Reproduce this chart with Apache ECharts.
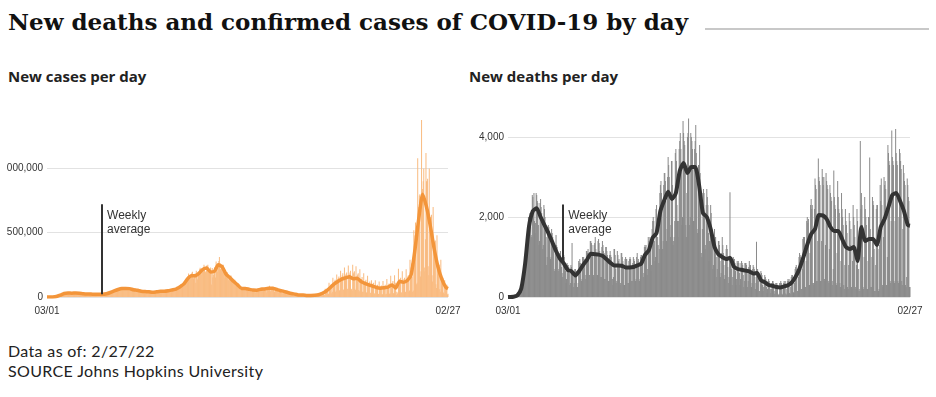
<!DOCTYPE html>
<html>
<head>
<meta charset="utf-8">
<script src="https://cdn.jsdelivr.net/npm/echarts@6/dist/echarts.min.js"></script>
<style>
  body { margin: 0; background: #fff; width: 936px; height: 397px; position: relative; overflow: hidden; }
  #title { position: absolute; left: 8px; top: 11px; font: bold 23px/22px 'DejaVu Serif', Georgia, serif; color: #111; white-space: nowrap; }
  #rule { position: absolute; left: 705px; top: 28px; width: 224px; height: 2px; background: #c8c8c8; }
  .sub { position: absolute; top: 69px; font: bold 15px/15px 'Open Sans', 'Noto Sans', sans-serif; color: #222; white-space: nowrap; }
  #foot { position: absolute; left: 8px; top: 341px; font: 16px/20px Lato, 'Noto Sans', sans-serif; letter-spacing: 0.35px; color: #222; }
  .chart { position: absolute; top: 100px; height: 230px; }
</style>
</head>
<body>
<div id="title">New deaths and confirmed cases of COVID-19 by day</div>
<div id="rule"></div>
<div class="sub" style="left:8px">New cases per day</div>
<div class="sub" style="left:469px">New deaths per day</div>
<div id="casesChart" class="chart" style="left:7px;width:461px"></div>
<div id="deathsChart" class="chart" style="left:460px;width:476px"></div>
<div id="foot">Data as of: 2/27/22<br>SOURCE Johns Hopkins University</div>

<script>
  // first day is Sun 2020-03-01, last is Sun 2022-02-27 (729 days)
  var startDay = [2020, 2, 1]
  var dayCount = 729

  // new cases per day, thousands, one row per week (Sun..Sat)
  var dailyCases = [
    0,0,0,0.1,0.1,0.1,0.1,
    0.1,0.2,0.3,0.4,0.5,0.6,0.7,
    0.8,1.3,1.8,3,4.5,5.8,7,
    8,10,11,12,17,19,20,
    19,20,26,26,29,32,33,
    26,29,30,31,32,35,33,
    27,26,27,30,32,31,33,
    27,25,26,29,32,39,34,
    27,24,25,28,31,35,31,
    24,22,23,25,28,29,27,
    21,20,21,23,27,28,25,
    20,21,20,22,24,26,24,
    20,19,17,19,22,24,23,
    20,18,21,20,23,25,23,
    18,17,19,21,23,23,26,
    20,18,23,25,27,32,30,
    26,30,34,37,39,45,42,
    38,39,44,50,53,57,45,
    46,49,56,60,62,68,66,
    60,60,62,67,73,75,68,
    63,60,63,70,70,74,68,
    57,58,60,67,70,72,64,
    48,47,53,54,58,63,59,
    47,44,48,52,55,64,55,
    41,37,41,45,48,50,49,
    36,35,38,42,46,49,46,
    36,33,36,42,43,49,47,
    35,27,27,34,37,45,42,
    35,33,38,39,44,48,43,
    38,36,40,43,47,55,47,
    38,36,40,42,46,55,49,
    39,40,44,50,51,58,53,
    46,44,51,57,63,69,55,
    50,52,60,63,71,82,58,
    61,67,74,79,89,99,80,
    80,85,93,104,118,125,122,
    105,118,140,145,160,183,167,
    136,142,160,171,188,196,175,
    143,173,175,182,110,205,154,
    138,158,180,200,215,228,214,
    175,190,214,225,232,250,215,
    190,197,205,245,240,250,205,
    186,195,197,230,190,97,226,
    153,172,200,227,232,152,277,
    215,195,240,262,280,311,265,
    215,220,240,240,245,250,215,
    180,145,165,190,195,195,172,
    131,150,146,155,165,168,140,
    112,134,116,121,123,134,103,
    83,90,92,96,104,104,87,
    64,54,60,71,72,76,71,
    56,57,64,75,77,74,63,
    52,57,56,65,68,66,59,
    40,50,54,58,59,63,53,
    35,48,53,58,60,64,50,
    38,53,60,66,66,75,61,
    42,62,61,68,77,70,62,
    35,78,68,75,78,87,60,
    45,70,72,75,79,80,60,
    38,62,60,67,70,72,52,
    36,51,52,55,60,62,44,
    26,48,43,48,50,50,40,
    25,33,35,40,39,44,27,
    17,26,27,30,32,36,24,
    15,23,22,24,28,26,16,
    12,8,16,19,19,20,12,
    9,14,14,16,17,22,10,
    7,12,11,13,15,16,8,
    6,13,11,13,14,17,7,
    6,15,12,14,16,19,8,
    5,5,24,23,24,28,10,
    12,36,30,33,35,45,14,
    18,64,44,53,60,67,20,
    26,110,70,80,92,100,30,
    40,150,104,110,120,135,40,
    50,175,125,140,150,160,50,
    55,205,150,155,170,185,55,
    60,230,155,170,180,190,60,
    65,245,160,175,190,205,65,
    60,50,250,180,190,200,65,
    55,240,150,160,175,185,55,
    45,215,125,130,140,155,40,
    40,185,110,115,125,135,35,
    35,165,95,100,110,120,33,
    30,130,95,95,105,110,30,
    25,130,75,80,90,95,25,
    23,120,70,75,85,90,22,
    22,125,72,80,88,95,22,
    25,140,78,70,95,105,25,
    30,165,95,100,110,125,30,
    30,170,100,110,15,40,25,
    35,220,140,130,140,150,35,
    35,200,120,125,140,150,35,
    40,215,130,140,160,170,40,
    50,290,175,230,260,160,40,
    50,520,400,480,580,440,100,
    110,1080,650,700,790,800,160,
    200,1376,820,840,900,1000,230,
    200,450,1120,900,900,920,240,
    170,1000,600,620,620,640,170,
    120,700,400,430,420,440,100,
    70,480,250,260,250,250,60,
    40,290,150,150,145,150,35,
    25,130,100,80,85,95,20,
    25
  ]

  // weekly average of cases, thousands, plotted mid-week (Wed)
  var weeklyCases = [
    0.05, 0.4, 3.5, 14, 27, 31, 30, 31, 29, 26, 24, 23, 21, 22, 21, 25, 35, 47, 58, 66,
    67, 65, 56, 52, 45, 42, 41, 36, 40, 44, 44, 48, 55, 62, 78, 100, 140, 165, 165, 185,
    215, 225, 195, 200, 250, 235, 178, 151, 120, 94, 67, 67, 60, 54, 53, 60, 63, 68, 69, 60,
    51, 44, 35, 27, 22, 15, 15, 12, 12, 13, 17, 29, 47, 72, 100, 121, 139, 149, 158, 142,
    146, 121, 106, 94, 85, 74, 69, 72, 77, 94, 70, 121, 115, 128, 172, 367, 613, 800, 700, 550,
    373, 231, 137, 76
  ]
  var casesAvgFirst = 0
  var casesAvgLast = 65

  // new deaths per day, one row per week (Sun..Sat)
  var dailyDeaths = [
    0,2,1,3,1,2,2,
    4,4,6,8,10,11,15,
    15,20,30,40,55,70,80,
    115,140,165,220,245,265,330,
    400,550,750,900,1000,1150,1100,
    1300,1300,2000,2000,1900,2100,1750,
    1550,1500,2550,2500,2200,2600,1900,
    1600,1850,2600,2550,2400,2350,1800,
    1300,1400,2350,2450,2250,2100,1800,
    1200,1300,2300,2200,2000,1700,1500,
    800,1000,1650,1800,1750,1650,1400,
    950,1000,1700,1600,1500,1400,1200,
    650,700,1100,1550,1300,1250,1050,
    650,700,1050,1100,1150,1000,750,
    600,500,1100,1050,1000,850,650,
    350,450,850,800,800,750,600,
    300,350,800,750,1350,650,500,
    250,350,700,700,650,600,250,
    250,350,900,850,950,850,700,
    400,450,1000,950,1000,950,850,
    450,550,1150,1150,1100,1200,950,
    550,550,1400,1400,1350,1300,1100,
    500,550,1300,1350,1500,1200,1050,
    550,550,1400,1450,1350,1150,1000,
    500,500,1250,1400,1300,1150,1100,
    450,450,1250,1250,1150,1050,950,
    400,400,1050,1150,1050,1000,800,
    450,300,500,1200,1200,1050,700,
    350,400,1150,1050,900,950,750,
    300,350,1100,1100,1000,900,700,
    300,300,950,1000,950,950,700,
    350,350,900,950,1000,950,700,
    400,400,850,1000,950,900,700,
    400,450,1000,1100,900,950,750,
    400,450,1000,1050,1050,950,850,
    500,600,1250,1300,1250,1300,1100,
    550,700,1500,1400,1200,1500,1250,
    650,800,1700,1900,2000,1900,1400,
    900,1000,2200,2300,1300,1500,1300,
    850,1200,2600,2800,2900,2600,2300,
    1200,1400,2800,3100,3100,2900,2400,
    1400,1700,3000,3500,3300,3000,2500,
    1500,1800,3400,3400,2800,1300,1400,
    1500,1900,3600,3700,3400,2300,1900,
    1500,1900,3700,3900,4100,3700,3200,
    1800,2000,4400,4100,3900,3800,3200,
    1800,1500,2600,4000,4100,4460,3300,
    1800,2000,4100,4000,3900,3700,3200,
    1900,1900,3700,3900,4300,3600,2900,
    1600,1700,3300,3300,3800,3100,2500,
    1100,1000,1700,2600,2700,2600,2000,
    1200,1300,2300,2700,2500,2300,1600,
    900,1400,1900,2300,2100,1700,1500,
    700,800,1400,1700,1500,1500,1000,
    500,700,1200,1400,1400,1300,900,
    500,600,1100,1500,1300,1100,800,
    450,550,1000,1200,1300,1200,750,
    350,500,1000,2620,900,900,700,
    300,500,1000,950,950,850,650,
    300,450,900,850,900,850,600,
    300,450,850,900,850,800,550,
    250,400,850,850,850,800,600,
    250,400,750,900,800,800,550,
    250,350,700,800,750,700,500,
    200,350,1380,700,700,600,400,
    150,150,500,650,600,550,300,
    150,250,450,550,500,450,250,
    100,200,400,450,400,350,200,
    100,200,350,400,400,350,150,
    80,200,350,350,350,300,80,
    50,70,350,350,400,350,80,
    60,200,350,400,350,400,90,
    60,200,400,450,400,450,100,
    80,250,500,550,550,500,120,
    100,350,700,750,800,700,150,
    150,500,1000,1100,1050,1000,200,
    200,700,1450,1500,1400,1500,250,
    250,900,1900,2000,1850,1950,300,
    300,1100,2300,2450,2200,2300,350,
    350,300,2200,2960,2800,2700,400,
    400,1400,3460,3000,2900,2800,400,
    400,1400,3200,3000,2800,3000,450,
    400,1300,3100,2900,2800,2700,400,
    350,1200,2800,2600,2500,2400,400,
    300,700,3160,2500,2300,2200,350,
    300,1100,2900,2500,2200,2100,350,
    250,900,2600,2200,2000,1800,300,
    200,800,2200,1900,1800,1600,250,
    200,800,2100,1900,1300,1700,250,
    200,900,2300,2000,1800,1500,250,
    200,800,2200,1900,150,700,200,
    150,3900,2200,2600,2300,1800,250,
    200,1000,2500,2200,2000,1800,200,
    200,900,2000,2000,3490,1700,250,
    250,1000,2500,2400,2300,1200,150,
    150,800,2200,2300,2300,1200,150,
    200,1300,2800,2400,2960,2300,300,
    250,1500,3000,2800,2900,2700,300,
    300,1000,3800,3600,3400,3300,400,
    350,1900,4160,3500,3400,3300,400,
    350,1900,4200,3600,3400,3300,400,
    350,2000,3700,3600,3400,3200,400,
    300,1700,3300,3100,2900,2800,300,
    250,500,2960,2800,2500,2400,250,
    250
  ]

  // weekly average of deaths, plotted mid-week (Wed)
  var weeklyDeaths = [
    2, 8, 40, 210, 830, 1760, 2150, 2220, 2000, 1800, 1600, 1380, 1150, 960, 840, 680, 640, 540, 650, 800,
    930, 1080, 1070, 1060, 1030, 950, 860, 790, 790, 780, 740, 740, 750, 790, 830, 1050, 1170, 1480, 1600, 2150,
    2420, 2630, 2450, 2600, 3150, 3350, 3100, 3250, 3250, 2800, 2100, 2000, 1700, 1250, 1070, 1000, 950, 980, 760, 700,
    680, 660, 640, 590, 600, 420, 370, 300, 280, 250, 240, 265, 295, 365, 510, 715, 1000, 1310, 1570, 1700,
    2050, 2040, 1950, 1750, 1650, 1650, 1450, 1250, 1200, 1250, 900, 1750, 1400, 1450, 1450, 1300, 1750, 1950, 2250, 2550,
    2600, 2400, 2150, 1800
  ]
  var deathsAvgFirst = 0
  var deathsAvgLast = 1780

  // "Weekly average" pointer: day index, value where it meets the line, value at its top
  var noteDay = 100
  var casesNote = [22000, 721000]
  var deathsNote = [850, 2310]

  var casesYTicks = [0, 1400000, 500000]   // min, max, step
  var deathsYTicks = [0, 4500, 2000]

  var days = []
  for (var i = 0; i < dayCount; i++) {
    days.push(new Date(startDay[0], startDay[1], startDay[2] + i).getTime())
  }

  function pad(n) { return (n < 10 ? '0' : '') + n }
  function mmdd(v) { var d = new Date(v); return pad(d.getMonth() + 1) + '/' + pad(d.getDate()) }

  function avgLine(weekly, first, last, scale) {
    var pts = [[days[0], first * scale]]
    weekly.forEach(function (v, w) { pts.push([days[w * 7 + 3], v * scale]) })
    pts.push([days[dayCount - 1], last * scale])
    return pts
  }

  function buildOption(p) {
    return {
      animation: false,
      // outerBoundsMode none: keep the grid where it is, the 1,000,000 label gets cut at the edge
      grid: { left: p.left, top: 17, width: p.width, height: 180, outerBoundsMode: 'none', containLabel: false },
      xAxis: {
        // timestamps on a value axis so the two end labels can be placed exactly
        type: 'value',
        min: days[0],
        max: days[dayCount - 1],
        axisLine: { show: false },
        axisTick: { show: false },
        splitLine: { show: false },
        axisLabel: {
          customValues: [days[0], days[dayCount - 1]],
          formatter: mmdd,
          margin: 9,
          fontSize: 10,
          fontFamily: 'Liberation Sans, Arial, sans-serif',
          color: '#333',
          hideOverlap: false
        }
      },
      yAxis: {
        type: 'value',
        min: p.ticks[0],
        max: p.ticks[1],
        interval: p.ticks[2],
        axisLine: { show: false },
        axisTick: { show: false },
        splitLine: { showMaxLine: false, lineStyle: { color: '#e2e2e2', width: 1 } },
        axisLabel: {
          showMaxLabel: false,
          margin: 4,
          fontSize: 10,
          fontFamily: 'Liberation Sans, Arial, sans-serif',
          color: '#333',
          formatter: function (v) { return v.toLocaleString('en-US') }
        }
      },
      series: [
        {
          type: 'bar',
          barWidth: 1,
          itemStyle: { color: p.barColor },
          data: p.daily.map(function (v, i) { return [days[i], v * p.scale] })
        },
        {
          type: 'line',
          symbol: 'none',
          smooth: 0.2,
          z: 3,
          lineStyle: { color: p.lineColor, width: p.lineWidth },
          data: avgLine(p.weekly, p.first, p.last, p.scale),
          markLine: {
            silent: true,
            symbol: 'none',
            label: { show: false },
            lineStyle: { color: '#333', width: 2, type: 'solid' },
            data: [[{ coord: [days[noteDay], p.note[0]] }, { coord: [days[noteDay], p.note[1]] }]]
          },
          markPoint: {
            silent: true,
            symbol: 'circle',
            symbolSize: 0,
            data: [{ coord: [days[noteDay], p.note[1]] }],
            label: {
              show: true,
              position: 'right',
              distance: 5,
              align: 'left',
              verticalAlign: 'top',
              offset: [0, 4],
              formatter: 'Weekly\naverage',
              fontSize: 12,
              lineHeight: 14,
              fontFamily: 'Liberation Sans, Arial, sans-serif',
              color: '#333'
            }
          }
        }
      ]
    }
  }

  var casesChart = echarts.init(document.getElementById('casesChart'))
  casesChart.setOption(buildOption({
    left: 40, width: 401, ticks: casesYTicks, scale: 1000,
    daily: dailyCases, weekly: weeklyCases, first: casesAvgFirst, last: casesAvgLast,
    barColor: '#f9bb80', lineColor: '#f3953a', lineWidth: 3.5, note: casesNote
  }))

  var deathsChart = echarts.init(document.getElementById('deathsChart'))
  deathsChart.setOption(buildOption({
    left: 48, width: 402, ticks: deathsYTicks, scale: 1,
    daily: dailyDeaths, weekly: weeklyDeaths, first: deathsAvgFirst, last: deathsAvgLast,
    barColor: '#8a8a8a', lineColor: '#333', lineWidth: 4, note: deathsNote
  }))
</script>
</body>
</html>
